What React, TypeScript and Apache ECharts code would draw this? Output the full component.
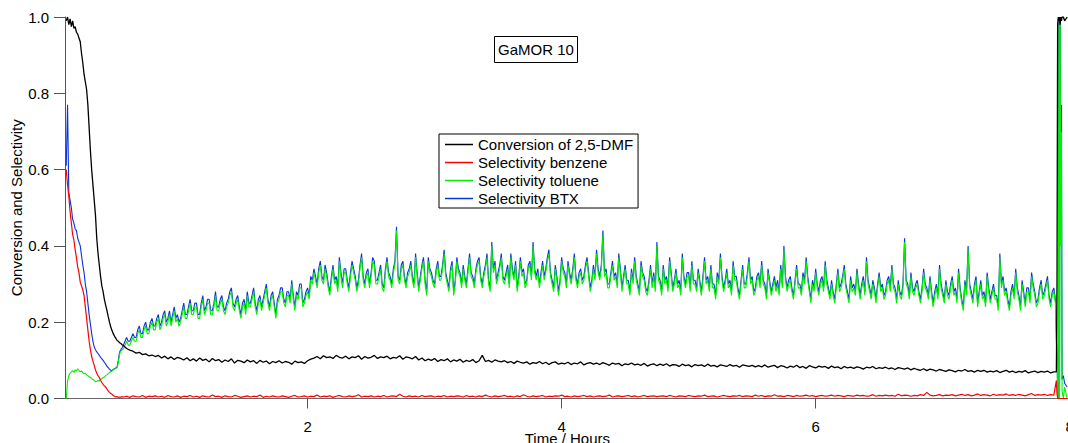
import { useEffect, useRef } from "react";
import * as echarts from "echarts";

// Time axis (hours)
const xTickValues = [2, 4, 6, 8];
const yTickValues = [0, 0.2, 0.4, 0.6, 0.8, 1.0];

// Start-up transient, sampled every 0.01 h
const earlyTimes = [
  0.1, 0.11, 0.12, 0.13, 0.14, 0.15, 0.16, 0.17, 0.18, 0.19,
  0.2, 0.21, 0.22, 0.23, 0.24, 0.25, 0.26, 0.27, 0.28, 0.29,
  0.3, 0.31, 0.32, 0.33, 0.34, 0.35, 0.36, 0.37, 0.38, 0.39,
  0.4, 0.41, 0.42, 0.43, 0.44, 0.45, 0.46, 0.47, 0.48, 0.49,
  0.5, 0.51, 0.52, 0.53, 0.54,
];
const conversionEarly = [
  0.99, 1.0, 0.98, 0.995, 0.975, 0.99, 0.97, 0.975, 0.96, 0.955,
  0.945, 0.935, 0.905, 0.88, 0.85, 0.83, 0.81, 0.77, 0.71, 0.65,
  0.6, 0.56, 0.52, 0.48, 0.42, 0.38, 0.35, 0.32, 0.295, 0.28,
  0.26, 0.245, 0.231, 0.215, 0.2, 0.188, 0.178, 0.17, 0.163, 0.158,
  0.152, 0.15, 0.146, 0.144, 0.141,
];
const benzeneEarly = [
  0.6, 0.56, 0.53, 0.49, 0.46, 0.43, 0.415, 0.39, 0.37, 0.345,
  0.33, 0.305, 0.295, 0.285, 0.27, 0.24, 0.21, 0.18, 0.15, 0.128,
  0.11, 0.098, 0.087, 0.075, 0.066, 0.06, 0.055, 0.048, 0.042, 0.037,
  0.033, 0.03, 0.025, 0.02, 0.016, 0.013, 0.011, 0.008, 0.006, 0.004,
  0.005, 0.003, 0.004, 0.003, 0.005,
];
const tolueneEarly = [
  0.0, 0.045, 0.06, 0.066, 0.07, 0.073, 0.068, 0.075, 0.072, 0.078,
  0.074, 0.07, 0.072, 0.068, 0.065, 0.066, 0.062, 0.06, 0.057, 0.055,
  0.052, 0.05, 0.047, 0.044, 0.045, 0.047, 0.046, 0.05, 0.052, 0.055,
  0.056, 0.06, 0.062, 0.065, 0.068, 0.07, 0.072, 0.075, 0.077, 0.079,
  0.081, 0.095, 0.118, 0.124, 0.128,
];
const btxEarly = [
  0.61, 0.77, 0.54, 0.52, 0.5, 0.47, 0.46, 0.445, 0.44, 0.42,
  0.41, 0.4, 0.375, 0.35, 0.33, 0.3, 0.28, 0.25, 0.22, 0.195,
  0.17, 0.15, 0.135, 0.128, 0.122, 0.118, 0.113, 0.108, 0.104, 0.1,
  0.095, 0.09, 0.085, 0.081, 0.077, 0.074, 0.073, 0.076, 0.078, 0.08,
  0.083, 0.1, 0.122, 0.128, 0.133,
];

// Steady operation from 0.55 h: conversion logged every 0.025 h,
// selectivities every 0.0125 h
const plateauStart = 0.55;
const conversionStep = 0.025;
const selectivityStep = 0.0125;

const conversionPlateau = [
  .139,.131,.127,.124,.119,.121,.115,.117,.112,.114,
  .110,.113,.106,.111,.104,.109,.102,.108,.105,.101,
  .107,.099,.104,.098,.106,.100,.103,.096,.105,.099,
  .102,.095,.101,.097,.104,.093,.100,.098,.094,.101,
  .096,.099,.092,.100,.095,.098,.091,.097,.094,.099,
  .093,.097,.095,.090,.098,.094,.096,.092,.099,.103,
  .106,.110,.104,.112,.107,.109,.105,.113,.108,.106,
  .111,.104,.109,.107,.112,.103,.110,.106,.108,.113,
  .105,.109,.107,.111,.104,.108,.106,.112,.103,.109,
  .107,.104,.110,.101,.106,.099,.103,.100,.105,.097,
  .102,.099,.104,.096,.101,.098,.103,.095,.100,.097,
  .102,.094,.099,.113,.097,.100,.095,.101,.098,.096,
  .099,.094,.097,.092,.098,.095,.093,.096,.090,.094,
  .092,.097,.091,.095,.089,.094,.096,.090,.093,.091,
  .095,.089,.093,.091,.096,.088,.092,.094,.090,.093,
  .089,.094,.091,.087,.093,.090,.092,.086,.091,.089,
  .093,.088,.090,.087,.092,.085,.089,.091,.086,.090,
  .087,.091,.085,.089,.088,.084,.090,.086,.088,.083,
  .089,.086,.088,.084,.090,.085,.087,.083,.088,.086,
  .084,.089,.085,.087,.082,.088,.086,.084,.087,.083,
  .086,.083,.088,.082,.085,.087,.081,.086,.084,.080,
  .085,.082,.087,.081,.084,.079,.086,.083,.080,.085,
  .082,.084,.079,.085,.081,.083,.078,.084,.080,.082,
  .079,.083,.081,.077,.082,.080,.084,.078,.081,.079,
  .082,.078,.080,.076,.081,.079,.077,.080,.075,.079,
  .076,.074,.078,.073,.077,.075,.072,.076,.074,.071,
  .075,.073,.070,.074,.072,.076,.071,.073,.069,.074,
  .071,.074,.069,.072,.070,.073,.068,.071,.074,.069,
  .072,.068,.071,.069,.073,.067,.070,.072,.068,.071,
  .069,.072,.067,.070,
];
const benzenePlateau = [
  .004,.006,.003,.007,.005,.004,.008,.003,.006,.005,
  .007,.004,.006,.003,.008,.005,.004,.007,.003,.006,
  .005,.008,.004,.006,.003,.007,.005,.004,.009,.005,
  .006,.003,.007,.005,.004,.008,.006,.003,.005,.007,
  .004,.006,.005,.009,.003,.006,.004,.007,.005,.004,
  .007,.005,.003,.006,.008,.004,.005,.007,.004,.006,
  .005,.009,.004,.006,.005,.007,.003,.006,.008,.005,
  .004,.007,.005,.006,.010,.004,.006,.005,.007,.004,
  .006,.005,.008,.004,.006,.007,.005,.011,.006,.004,
  .007,.005,.006,.004,.008,.005,.006,.007,.004,.006,
  .005,.008,.004,.006,.005,.007,.006,.004,.008,.005,
  .006,.004,.007,.005,.009,.006,.004,.007,.005,.006,
  .008,.005,.006,.004,.007,.005,.010,.006,.004,.007,
  .005,.006,.008,.004,.006,.005,.007,.006,.009,.005,
  .006,.004,.007,.005,.006,.008,.005,.007,.004,.006,
  .007,.005,.006,.009,.004,.006,.007,.005,.006,.008,
  .005,.007,.004,.006,.008,.005,.006,.007,.005,.006,
  .007,.005,.008,.006,.004,.007,.006,.005,.008,.006,
  .005,.007,.006,.009,.005,.006,.007,.004,.006,.008,
  .006,.005,.007,.006,.008,.005,.007,.006,.005,.009,
  .006,.008,.005,.007,.006,.010,.006,.007,.005,.008,
  .007,.005,.008,.006,.007,.009,.006,.008,.005,.007,
  .008,.006,.007,.009,.006,.008,.007,.005,.008,.007,
  .006,.009,.007,.008,.006,.007,.010,.006,.008,.007,
  .009,.007,.008,.006,.011,.007,.009,.008,.006,.008,
  .007,.010,.008,.016,.009,.007,.008,.010,.007,.009,
  .008,.010,.007,.009,.011,.008,.010,.007,.009,.012,
  .008,.010,.009,.007,.011,.008,.010,.009,.012,.008,
  .010,.008,.011,.009,.007,.010,.013,.008,.010,.009,
  .011,.008,.010,.009,
];
const toluenePlateau = [
  .13,.14,.15,.14,.14,.15,.16,.15,.15,.17,.18,.16,.16,.18,.19,.17,.17,.19,.20,.18,
  .18,.20,.21,.18,.19,.21,.22,.19,.20,.22,.19,.21,.23,.20,.21,.19,.20,.22,.24,.21,
  .21,.23,.25,.22,.22,.24,.24,.21,.21,.24,.26,.22,.23,.25,.25,.22,.22,.24,.27,.23,
  .23,.25,.26,.23,.22,.24,.25,.27,.28,.24,.23,.25,.26,.23,.21,.24,.25,.22,.27,.24,
  .24,.26,.28,.24,.22,.25,.26,.23,.25,.27,.29,.25,.23,.26,.27,.24,.21,.25,.26,.28,
  .28,.25,.24,.27,.27,.25,.30,.26,.23,.27,.26,.29,.29,.24,.25,.27,.28,.26,.31,.30,
  .33,.31,.29,.33,.35,.31,.30,.34,.32,.29,.27,.31,.34,.30,.31,.28,.36,.32,.29,.33,
  .33,.30,.28,.32,.35,.33,.31,.28,.30,.34,.37,.31,.29,.32,.33,.29,.32,.36,.35,.30,
  .30,.32,.34,.29,.28,.33,.36,.32,.31,.29,.33,.35,.44,.31,.30,.34,.35,.31,.29,.32,
  .33,.35,.31,.29,.37,.32,.28,.31,.34,.36,.30,.27,.36,.33,.32,.30,.29,.33,.35,.31,
  .31,.34,.38,.32,.30,.28,.33,.35,.27,.30,.36,.33,.32,.29,.34,.31,.29,.33,.37,.32,
  .31,.29,.33,.35,.36,.31,.29,.32,.34,.37,.30,.28,.40,.33,.35,.30,.32,.34,.37,.31,
  .30,.32,.34,.29,.37,.33,.31,.35,.28,.31,.36,.32,.33,.29,.30,.34,.35,.31,.40,.33,
  .31,.33,.29,.32,.35,.31,.33,.36,.38,.32,.30,.28,.34,.31,.27,.30,.36,.33,.32,.29,
  .35,.32,.30,.33,.37,.31,.29,.32,.33,.30,.31,.34,.36,.32,.28,.30,.34,.31,.38,.33,
  .31,.34,.43,.32,.33,.29,.29,.32,.35,.31,.32,.29,.37,.33,.28,.31,.34,.30,.30,.27,
  .33,.30,.36,.31,.29,.27,.35,.32,.31,.28,.27,.30,.34,.29,.32,.28,.40,.31,.30,.27,
  .34,.30,.31,.28,.36,.32,.28,.30,.33,.29,.30,.27,.37,.31,.29,.32,.32,.28,.35,.30,
  .30,.28,.33,.30,.27,.31,.36,.30,.31,.28,.34,.29,.29,.26,.32,.30,.37,.31,.28,.30,
  .33,.29,.30,.27,.35,.31,.31,.28,.26,.30,.34,.29,.29,.32,.36,.30,.31,.27,.28,.31,
  .32,.29,.35,.30,.29,.26,.33,.30,.27,.29,.31,.28,.30,.27,.34,.29,.39,.31,.28,.30,
  .31,.28,.26,.30,.34,.29,.29,.27,.32,.30,.36,.31,.28,.25,.30,.28,.33,.29,.27,.30,
  .31,.28,.35,.30,.28,.26,.30,.27,.25,.29,.33,.28,.29,.31,.34,.29,.27,.25,.31,.28,
  .29,.27,.33,.29,.26,.29,.31,.27,.36,.30,.28,.26,.30,.28,.25,.29,.32,.28,.29,.26,
  .27,.30,.31,.28,.34,.29,.28,.25,.30,.27,.26,.29,.41,.30,.29,.26,.32,.28,.27,.29,
  .30,.27,.25,.28,.33,.29,.28,.26,.31,.27,.24,.27,.29,.26,.34,.29,.27,.25,.30,.27,
  .26,.29,.31,.27,.28,.25,.33,.28,.25,.23,.30,.27,.39,.29,.27,.25,.29,.31,.24,.27,
  .30,.26,.27,.24,.32,.28,.25,.27,.29,.26,.26,.23,.37,.29,.31,.27,.28,.25,.23,.27,
  .29,.26,.33,.28,.26,.23,.30,.27,.24,.28,.28,.25,.32,.29,.27,.24,.25,.28,.30,.26,
  .27,.29,.31,.26,.24,.27,.28,.25,
];
const btxPlateau = [
  .14,.15,.16,.15,.15,.16,.17,.16,.16,.18,.19,.17,.17,.19,.20,.18,.18,.20,.21,.19,
  .19,.21,.22,.19,.20,.22,.23,.20,.21,.23,.20,.22,.24,.21,.22,.20,.21,.23,.25,.22,
  .22,.24,.26,.23,.23,.25,.25,.22,.22,.25,.27,.23,.24,.26,.26,.23,.23,.25,.28,.24,
  .24,.26,.27,.24,.23,.25,.26,.28,.29,.25,.24,.26,.27,.24,.22,.25,.26,.23,.28,.25,
  .25,.27,.29,.25,.23,.26,.27,.24,.26,.28,.30,.26,.24,.27,.28,.25,.22,.26,.27,.29,
  .29,.26,.25,.28,.28,.26,.31,.27,.24,.28,.27,.30,.30,.25,.26,.28,.29,.27,.32,.31,
  .34,.32,.30,.34,.36,.32,.31,.35,.33,.30,.28,.32,.35,.31,.32,.29,.37,.33,.30,.34,
  .34,.31,.29,.33,.36,.34,.32,.29,.31,.35,.38,.32,.30,.33,.34,.30,.33,.37,.36,.31,
  .31,.33,.35,.30,.29,.34,.37,.33,.32,.30,.34,.36,.45,.32,.31,.35,.36,.32,.30,.33,
  .34,.36,.32,.30,.38,.33,.29,.32,.35,.37,.31,.28,.37,.34,.33,.31,.30,.34,.36,.32,
  .32,.35,.39,.33,.31,.29,.34,.36,.28,.31,.37,.34,.33,.30,.35,.32,.30,.34,.38,.33,
  .32,.30,.34,.36,.37,.32,.30,.33,.35,.38,.31,.29,.41,.34,.36,.31,.33,.35,.38,.32,
  .31,.33,.35,.30,.38,.34,.32,.36,.29,.32,.37,.33,.34,.30,.31,.35,.36,.32,.41,.34,
  .32,.34,.30,.33,.36,.32,.34,.37,.39,.33,.31,.29,.35,.32,.28,.31,.37,.34,.33,.30,
  .36,.33,.31,.34,.38,.32,.30,.33,.34,.31,.32,.35,.37,.33,.29,.31,.35,.32,.39,.34,
  .32,.35,.44,.33,.34,.30,.30,.33,.36,.32,.33,.30,.38,.34,.29,.32,.35,.31,.31,.28,
  .34,.31,.37,.32,.30,.28,.36,.33,.32,.29,.28,.31,.35,.30,.33,.29,.41,.32,.31,.28,
  .35,.31,.32,.29,.37,.33,.29,.31,.34,.30,.31,.28,.38,.32,.30,.33,.33,.29,.36,.31,
  .31,.29,.34,.31,.28,.32,.37,.31,.32,.29,.35,.30,.30,.27,.33,.31,.38,.32,.29,.31,
  .34,.30,.31,.28,.36,.32,.32,.29,.27,.31,.35,.30,.30,.33,.37,.31,.32,.28,.29,.32,
  .33,.30,.36,.31,.30,.27,.34,.31,.28,.30,.32,.29,.31,.28,.35,.30,.40,.32,.29,.31,
  .32,.29,.27,.31,.35,.30,.30,.28,.33,.31,.37,.32,.29,.26,.31,.29,.34,.30,.28,.31,
  .32,.29,.36,.31,.29,.27,.31,.28,.26,.30,.34,.29,.30,.32,.35,.30,.28,.26,.32,.29,
  .30,.28,.34,.30,.27,.30,.32,.28,.37,.31,.29,.27,.31,.29,.26,.30,.33,.29,.30,.27,
  .28,.31,.32,.29,.35,.30,.29,.26,.31,.28,.27,.30,.42,.31,.30,.27,.33,.29,.28,.30,
  .31,.28,.26,.29,.34,.30,.29,.27,.32,.28,.25,.28,.30,.27,.35,.30,.28,.26,.31,.28,
  .27,.30,.32,.28,.29,.26,.34,.29,.26,.24,.31,.28,.40,.30,.28,.26,.30,.32,.25,.28,
  .31,.27,.28,.25,.33,.29,.26,.28,.30,.27,.27,.24,.38,.30,.32,.28,.29,.26,.24,.28,
  .30,.27,.34,.29,.27,.24,.31,.28,.25,.29,.29,.26,.33,.30,.28,.25,.26,.29,.31,.27,
  .28,.30,.32,.27,.25,.28,.29,.26,
];

// Shut-down / purge at the end of the run
const endTimes = [7.895, 7.9, 7.905, 7.91, 7.915, 7.92, 7.925, 7.93, 7.935, 7.94, 7.95, 7.96, 7.98];
const conversionEnd = [0.07, 0.3, 0.98, 1.0, 0.99, 1.0, 0.98, 1.0, 0.99, 1.0, 1.0, 0.99, 1.0];
const benzeneEnd = [0.047, 0.012, 0.002, 0, 0, 0, 0, 0, 0, 0, 0, 0, 0];
const tolueneEnd = [0.15, 0.1, 0.02, 0.0, 0.98, 0.0, 1.0, 0.4, 0.7, 0.02, 0.0, 0.03, 0.0];
const btxEnd = [0.16, 0.11, 0.03, 0.0, 0.99, 0.02, 1.0, 0.45, 0.77, 0.05, 0.06, 0.04, 0.03];

const FONT = "'Liberation Sans', Arial, sans-serif";

function buildSeries(early: number[], plateau: number[], step: number, end: number[]) {
  const pts: [number, number][] = [];
  early.forEach((v, i) => pts.push([earlyTimes[i], v]));
  plateau.forEach((v, i) => pts.push([plateauStart + i * step, v]));
  end.forEach((v, i) => pts.push([endTimes[i], v]));
  return pts;
}

export default function App() {
  const ref = useRef<HTMLDivElement>(null);

  useEffect(() => {
    if (!ref.current) return;
    const chart = echarts.init(ref.current, undefined, { renderer: "svg" });

    const line = (name: string, color: string, width: number, data: [number, number][]) => ({
      name,
      type: "line",
      data,
      showSymbol: false,
      symbol: "none",
      lineStyle: { color, width },
      itemStyle: { color },
      emphasis: { disabled: true },
    });

    chart.setOption({
      animation: false,
      backgroundColor: "#ffffff",
      grid: { left: 65, right: 20.3, top: 17, bottom: 44.5, outerBoundsMode: "none", containLabel: false },
      title: {
        text: "GaMOR 10",
        left: 494,
        top: 36,
        padding: [6, 4],
        borderColor: "#000",
        borderWidth: 1,
        textStyle: { fontSize: 15, fontWeight: "normal", color: "#000", fontFamily: FONT },
      },
      legend: {
        orient: "vertical",
        left: 439,
        top: 134,
        padding: [3, 5, 2, 6],
        itemGap: 3,
        itemWidth: 28,
        itemHeight: 1.5,
        icon: "rect",
        borderColor: "#000",
        borderWidth: 1,
        backgroundColor: "#fff",
        data: [
          "Conversion of 2,5-DMF",
          "Selectivity benzene",
          "Selectivity toluene",
          "Selectivity BTX",
        ],
        textStyle: { fontSize: 15, color: "#000", fontFamily: FONT },
      },
      xAxis: {
        type: "value",
        min: 0.09,
        max: 8,
        offset: 1.5,
        name: "Time / Hours",
        nameLocation: "middle",
        nameGap: 31,
        nameMoveOverlap: false,
        nameTextStyle: { fontSize: 15, color: "#000", fontFamily: FONT },
        axisLine: { show: true, lineStyle: { color: "#666", width: 1 } },
        axisTick: { show: true, length: 10, customValues: xTickValues, lineStyle: { color: "#555" } },
        axisLabel: {
          customValues: xTickValues,
          margin: 19,
          fontSize: 15,
          color: "#000",
          fontFamily: FONT,
          formatter: (v: number) => String(v),
        },
        splitLine: { show: false },
      },
      yAxis: {
        type: "value",
        min: 0,
        max: 1,
        interval: 0.2,
        name: "Conversion and Selectivity",
        nameLocation: "middle",
        nameGap: 41,
        nameMoveOverlap: false,
        nameTextStyle: { fontSize: 15, color: "#000", fontFamily: FONT },
        axisLine: { show: true, lineStyle: { color: "#555", width: 1 } },
        axisTick: { show: true, length: 11, lineStyle: { color: "#555" } },
        axisLabel: {
          customValues: yTickValues,
          margin: 16,
          fontSize: 15,
          color: "#000",
          fontFamily: FONT,
          formatter: (v: number) => v.toFixed(1),
        },
        splitLine: { show: false },
      },
      series: [
        line("Selectivity BTX", "#0a32e0", 1.1, buildSeries(btxEarly, btxPlateau, selectivityStep, btxEnd)),
        line("Selectivity toluene", "#00f000", 1.1, buildSeries(tolueneEarly, toluenePlateau, selectivityStep, tolueneEnd)),
        line("Selectivity benzene", "#ff0000", 1.2, buildSeries(benzeneEarly, benzenePlateau, conversionStep, benzeneEnd)),
        line("Conversion of 2,5-DMF", "#000000", 1.3, buildSeries(conversionEarly, conversionPlateau, conversionStep, conversionEnd)),
      ],
    });

    return () => chart.dispose();
  }, []);

  return (
    <div
      style={{
        position: "fixed",
        left: 0,
        top: 0,
        width: 1068,
        height: 443,
        overflow: "hidden",
        background: "#fff",
      }}
    >
      <div ref={ref} style={{ width: 1090, height: 443 }} />
    </div>
  );
}
